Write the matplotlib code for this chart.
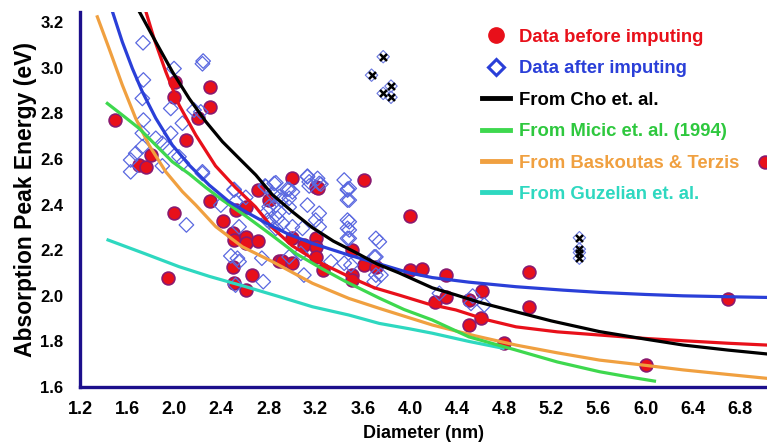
import matplotlib.pyplot as plt
from matplotlib.lines import Line2D

# data before imputing (red circles)
red_d = [1.50, 1.70, 1.76, 1.80, 1.95, 2.00, 2.00, 2.01, 2.10, 2.20, 2.30, 2.30, 2.30,
         2.41, 2.50, 2.51, 2.52, 2.50, 2.51, 2.61, 2.61, 2.61, 2.61, 2.66, 2.71, 2.71,
         2.80, 2.89, 2.91, 3.00, 3.00, 3.00, 3.10, 3.20, 3.22, 3.20, 3.20, 3.20, 3.26,
         3.51, 3.51, 3.51, 3.61, 3.61, 3.71, 4.00, 4.00, 4.10, 4.21, 4.31, 4.31, 4.50,
         4.50, 4.60, 4.61, 4.80, 5.01, 5.01, 6.00, 6.70, 7.01]
red_e = [2.77, 2.575, 2.566, 2.616, 2.077, 2.362, 2.871, 2.939, 2.683, 2.78, 2.917, 2.829, 2.415,
         2.329, 2.274, 2.245, 2.376, 2.128, 2.055, 2.39, 2.259, 2.23, 2.025, 2.091, 2.242, 2.464,
         2.42, 2.154, 2.153, 2.518, 2.252, 2.143, 2.223, 2.476, 2.471, 2.252, 2.215, 2.171, 2.113,
         2.20, 2.091, 2.069, 2.508, 2.135, 2.128, 2.351, 2.113, 2.116, 1.974, 2.091, 1.993, 1.982,
         1.872, 1.901, 2.021, 1.792, 2.103, 1.952, 1.697, 1.986, 2.587]

# data after imputing (blue diamonds)
blue_d = [1.735, 2.239, 2.245, 1.998, 1.738, 1.729, 1.97, 2.168, 2.225, 1.738, 2.069, 1.729,
          1.843, 1.97, 1.899, 1.729, 1.941, 1.673, 2.04, 1.63, 2.069, 1.63, 1.899, 2.239,
          2.862, 2.777, 2.975, 3.13, 3.145, 3.23, 3.442, 3.47, 2.89, 2.508,
          2.239, 2.508, 2.607, 2.771, 2.848, 2.395, 2.52, 2.79, 2.862, 2.103, 2.55, 2.79,
          2.48, 2.536, 2.55, 2.743, 2.755, 2.52,
          3.13, 3.145, 3.216, 3.245, 3.47, 3.47, 2.96, 3.003, 2.848, 2.975, 2.905, 2.805,
          2.975, 3.13, 2.89, 3.23, 2.876, 2.805, 2.918, 3.20, 3.003, 3.088, 2.862, 3.47,
          3.47, 3.47, 3.23, 3.711, 3.74, 3.711, 3.329, 3.442, 3.499, 3.10, 3.711, 3.754,
          3.697, 3.074, 2.975, 3.485, 3.485, 3.485, 3.485, 3.485, 3.697,
          4.25, 4.532, 4.631, 4.518]
blue_e = [3.11, 3.018, 3.03, 2.997, 2.947, 2.866, 2.822, 2.815, 2.807, 2.771, 2.757, 2.713,
          2.691, 2.713, 2.669, 2.654, 2.647, 2.625, 2.61, 2.596, 2.581, 2.544, 2.57, 2.544,
          2.496, 2.479, 2.467, 2.522, 2.50, 2.493, 2.508, 2.464, 2.435, 2.464,
          2.537, 2.467, 2.432, 2.482, 2.493, 2.398, 2.413, 2.369, 2.398, 2.311, 2.303, 2.332,
          2.175, 2.165, 2.15, 2.165, 2.062, 2.047,
          2.525, 2.482, 2.515, 2.49, 2.468, 2.42, 2.468, 2.456, 2.442, 2.428, 2.42, 2.391,
          2.389, 2.398, 2.369, 2.362, 2.34, 2.325, 2.318, 2.332, 2.303, 2.296, 2.296, 2.332,
          2.296, 2.252, 2.303, 2.252, 2.237, 2.171, 2.15, 2.143, 2.135, 2.091, 2.091, 2.091,
          2.062, 2.186, 2.171, 2.471, 2.42, 2.325, 2.289, 2.252, 2.171,
          2.011, 1.999, 1.96, 1.967]

# outliers marked with black crosses
x_d = [3.773, 3.674, 3.839, 3.773, 3.839, 5.438, 5.438, 5.438, 5.438]
x_e = [3.049, 2.968, 2.92, 2.888, 2.871, 2.255, 2.205, 2.19, 2.165]

# model curves
cho_d = [1.701, 1.843, 1.984, 2.126, 2.268, 2.409, 2.55, 2.692, 2.83, 3.0, 3.17, 3.35, 3.54,
         3.72, 3.91, 4.19, 4.39, 4.6, 4.9, 5.2, 5.61, 6.0, 6.32, 6.7, 7.03]
cho_e = [3.249, 3.114, 2.983, 2.866, 2.764, 2.676, 2.603, 2.53, 2.445, 2.37, 2.30, 2.24, 2.19,
         2.14, 2.10, 2.035, 2.004, 1.97, 1.93, 1.89, 1.843, 1.81, 1.784, 1.762, 1.745]
red_fit_d = [1.758, 1.828, 1.928, 2.041, 2.183, 2.35, 2.52, 2.69, 2.83, 3.0, 3.2, 3.5, 3.7,
             3.91, 4.15, 4.39, 4.65, 4.9, 5.25, 5.61, 6.0, 6.32, 6.7, 7.03]
red_fit_e = [3.249, 3.129, 2.983, 2.837, 2.705, 2.57, 2.475, 2.39, 2.30, 2.22, 2.155, 2.08, 2.035,
             2.003, 1.965, 1.938, 1.895, 1.864, 1.842, 1.828, 1.813, 1.803, 1.792, 1.784]
blue_fit_d = [1.474, 1.559, 1.644, 1.729, 1.843, 1.984, 2.126, 2.296, 2.465, 2.62, 2.777, 2.97,
              3.173, 3.48, 3.74, 4.0, 4.19, 4.5, 4.9, 5.3, 5.61, 6.0, 6.32, 6.7, 7.03]
blue_fit_e = [3.249, 3.114, 2.998, 2.895, 2.779, 2.661, 2.574, 2.486, 2.413, 2.365, 2.32, 2.27,
              2.23, 2.179, 2.14, 2.10, 2.08, 2.06, 2.04, 2.025, 2.015, 2.006, 2.0, 1.996, 1.993]
micic_d = [1.432, 1.559, 1.701, 1.843, 1.984, 2.126, 2.268, 2.409, 2.607, 2.83, 3.03, 3.25,
           3.457, 3.74, 3.95, 4.19, 4.5, 4.9, 5.25, 5.61, 5.85, 6.075]
micic_e = [2.844, 2.793, 2.735, 2.661, 2.588, 2.535, 2.475, 2.42, 2.35, 2.265, 2.186, 2.12,
           2.062, 1.99, 1.94, 1.894, 1.82, 1.762, 1.71, 1.667, 1.645, 1.626]
bask_d = [1.347, 1.446, 1.559, 1.673, 1.786, 1.928, 2.069, 2.183, 2.353, 2.578, 2.833, 3.173,
          3.48, 3.74, 4.19, 4.55, 4.9, 5.25, 5.61, 6.0, 6.32, 6.7, 7.03]
bask_e = [3.224, 3.086, 2.925, 2.778, 2.661, 2.544, 2.457, 2.398, 2.303, 2.215, 2.15, 2.055,
          1.989, 1.945, 1.872, 1.825, 1.784, 1.75, 1.718, 1.695, 1.675, 1.655, 1.638]
guz_d = [1.438, 1.75, 2.04, 2.3, 2.607, 2.9, 3.173, 3.48, 3.74, 4.0, 4.19, 4.5, 4.79]
guz_e = [2.245, 2.185, 2.128, 2.085, 2.04, 1.995, 1.952, 1.916, 1.879, 1.855, 1.836, 1.80, 1.77]

navy = '#1c0f8c'
c_red = '#e8101a'
c_blue = '#2a3fd8'
c_green = '#3ed84e'
c_orange = '#f0a040'
c_cyan = '#2ed8c0'

plt.rcParams['font.family'] = ['Liberation Sans', 'DejaVu Sans']

fig = plt.figure(figsize=(7.67, 4.42), dpi=100)
ax = fig.add_axes([0.1043, 0.1244, 0.8957, 0.8484])

ax.scatter(red_d, red_e, s=85, c=c_red, edgecolors='#8a1a70', linewidths=1.2, zorder=2, clip_on=False)
ax.scatter(blue_d, blue_e, s=55, marker='D', facecolors='none', edgecolors='#5a68e0', linewidths=0.9, zorder=3)
ax.scatter(x_d, x_e, s=40, marker='D', facecolors='none', edgecolors='#6a78e0', linewidths=0.8, zorder=3)
ax.scatter(x_d, x_e, s=25, marker='x', c='black', linewidths=1.8, zorder=4)

lw = 2.3
ax.plot(guz_d, guz_e, color=c_cyan, lw=lw, zorder=5, solid_joinstyle='round')
ax.plot(bask_d, bask_e, color=c_orange, lw=lw, zorder=5, solid_joinstyle='round')
ax.plot(micic_d, micic_e, color=c_green, lw=lw, zorder=5, solid_joinstyle='round')
ax.plot(red_fit_d, red_fit_e, color=c_red, lw=lw, zorder=6, solid_joinstyle='round')
ax.plot(blue_fit_d, blue_fit_e, color=c_blue, lw=lw, zorder=6, solid_joinstyle='round')
ax.plot(cho_d, cho_e, color='black', lw=lw, zorder=7, solid_joinstyle='round')

ax.set_xlim(1.2, 7.03)
ax.set_ylim(1.6, 3.245)
ax.set_xticks([1.2 + 0.4 * i for i in range(15)])
ax.set_yticks([1.6 + 0.2 * i for i in range(9)])
ax.set_xticklabels(['%.1f' % (1.2 + 0.4 * i) for i in range(15)], fontsize=13, fontweight='bold')
ax.set_yticklabels(['%.1f' % (1.6 + 0.2 * i) for i in range(9)], fontsize=12, fontweight='bold')
ax.tick_params(axis='both', length=0)
ax.tick_params(axis='x', pad=10)
ax.tick_params(axis='y', pad=12)

for s in ['top', 'right']:
    ax.spines[s].set_visible(False)
for s in ['left', 'bottom']:
    ax.spines[s].set_color(navy)
    ax.spines[s].set_linewidth(2.4)

ax.set_xlabel('Diameter (nm)', fontsize=13, fontweight='bold', labelpad=5)
ax.set_ylabel('Absorption Peak Energy (eV)', fontsize=16.5, fontweight='bold', labelpad=2)

handles = [
    Line2D([], [], ls='none', marker='o', ms=11, color=c_red, mec=c_red),
    Line2D([], [], ls='none', marker='D', ms=8, mfc='none', mec=c_blue, mew=2.2),
    Line2D([], [], color='black', lw=3.5),
    Line2D([], [], color=c_green, lw=3.5),
    Line2D([], [], color=c_orange, lw=3.5),
    Line2D([], [], color=c_cyan, lw=3.5),
]
labels = ['Data before imputing', 'Data after imputing', 'From Cho et. al.',
          'From Micic et. al. (1994)', 'From Baskoutas & Terzis', 'From Guzelian et. al.']
leg = ax.legend(handles, labels, loc='upper left', bbox_to_anchor=(0.585, 0.955), frameon=False,
                prop={'size': 13.3, 'weight': 'bold'}, handlelength=1.5, labelspacing=0.78,
                handletextpad=0.5, borderpad=0, borderaxespad=0)
for t, c in zip(leg.get_texts(), [c_red, c_blue, 'black', '#2ec83e', c_orange, c_cyan]):
    t.set_color(c)
leg.set_zorder(10)

fig.savefig('out.png', dpi=100)
